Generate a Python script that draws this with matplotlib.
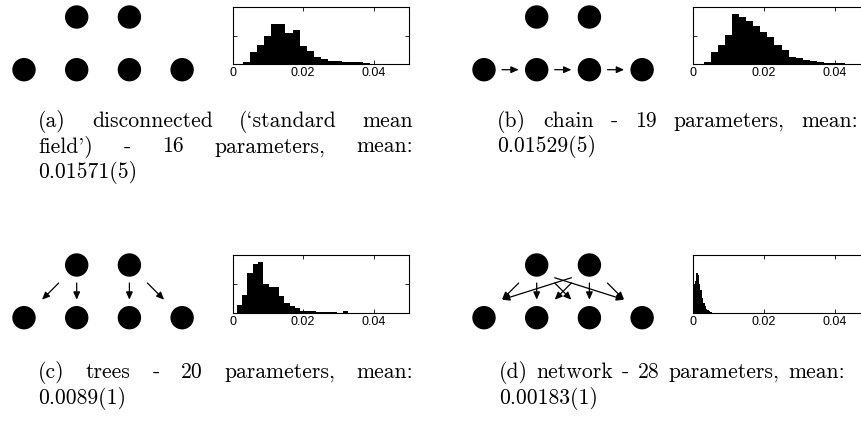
import numpy as np
import matplotlib
matplotlib.use('Agg')
from matplotlib import pyplot as plt
from matplotlib.patches import Circle, FancyArrowPatch

W, H = 861, 424

# histograms: first bin edge, bin width, bar heights (arbitrary counts)
a_start, a_width = 0.001, 0.002
a_counts = [0, 5, 35, 58, 86, 120, 120, 95, 103, 56, 38, 20, 16, 10, 10, 7, 5, 7, 2, 1, 1]
b_start, b_width = 0.003, 0.002
b_counts = [7, 37, 57, 87, 152, 142, 132, 114, 97, 82, 57, 42, 22, 17, 12, 8, 5, 3, 3, 2, 1]
c_start, c_width = 0.0012, 0.0015
c_counts = [22, 53, 118, 146, 152, 86, 78, 78, 50, 28, 21, 14, 5, 5, 5, 2, 2, 2, 2, 0, 4]
d_start, d_width = 0.0, 0.0004
d_counts = [85, 95, 120, 112, 85, 68, 45, 30, 20, 12, 8, 4, 2]

# graph structure: t = top row, b = bottom row
edges_a = []
edges_b = [('b0', 'b1'), ('b1', 'b2'), ('b2', 'b3')]
edges_c = [('t0', 'b0'), ('t0', 'b1'), ('t1', 'b2'), ('t1', 'b3')]
edges_d = [('t0', 'b0'), ('t0', 'b1'), ('t0', 'b2'), ('t0', 'b3'),
           ('t1', 'b0'), ('t1', 'b1'), ('t1', 'b2'), ('t1', 'b3')]

captions = {
    'a': [['(a)', 'disconnected', '(`standard', 'mean'],
          ['field\')', '-', '16', 'parameters,', 'mean:'],
          ['0.01571(5)']],
    'b': [['(b)', 'chain', '-', '19', 'parameters,', 'mean:'],
          ['0.01529(5)']],
    'c': [['(c)', 'trees', '-', '20', 'parameters,', 'mean:'],
          ['0.0089(1)']],
    'd': [['(d)', 'network', '-', '28', 'parameters,', 'mean:'],
          ['0.00183(1)']],
}

fig = plt.figure(figsize=(W / 100, H / 100), dpi=100)
ax = fig.add_axes([0, 0, 1, 1])
ax.set_xlim(0, W)
ax.set_ylim(H, 0)
ax.axis('off')
renderer = fig.canvas.get_renderer()

SP = 52.7
R = 11
CLIP = 18
FAM = ['cmr10', 'DejaVu Serif']
FS = 15.6


def node_pos(name, ox, oy):
    row, i = name[0], int(name[1])
    if row == 't':
        return np.array([ox + SP * (i + 1), oy])
    return np.array([ox + SP * i, oy + SP])


def draw_graph(edges, ox, oy):
    for n in ['t0', 't1', 'b0', 'b1', 'b2', 'b3']:
        ax.add_patch(Circle(node_pos(n, ox, oy), R, color='black', zorder=3))
    for s, e in edges:
        p0, p1 = node_pos(s, ox, oy), node_pos(e, ox, oy)
        d = p1 - p0
        # arrows leave / enter each node at a fixed offset per axis
        off = np.sign(d) * np.minimum(np.abs(d), CLIP)
        off0 = off.copy()
        if d[0] != 0 and d[1] != 0:
            off0[1] *= min(1, abs(d[1] / d[0])) ** 0.5
        a0, a1 = p0 + off0, p1 - off
        ax.add_patch(FancyArrowPatch(a0, a1, arrowstyle='-|>,head_length=0.45,head_width=0.2',
                                     mutation_scale=10, lw=0.9, color='black',
                                     shrinkA=0, shrinkB=0))


def draw_hist(start, width, counts, left, top, bottom, ymax):
    hx = fig.add_axes([left / W, 1 - bottom / H, 176.5 / W, (bottom - top) / H])
    edges = start + width * np.arange(len(counts) + 1)
    hx.stairs(counts, edges, fill=True, color='black')
    hx.set_xlim(0, 0.05)
    hx.set_ylim(0, ymax)
    hx.set_xticks([0, 0.02, 0.04])
    hx.set_xticklabels(['0', '0.02', '0.04'], fontfamily='Liberation Sans', fontsize=9)
    hx.set_yticks([ymax / 2])
    hx.set_yticklabels([])
    hx.tick_params(direction='in', top=True, right=True, length=3, width=0.6, pad=2.5)
    for sp in hx.spines.values():
        sp.set_linewidth(0.8)


def justify(words, x0, x1, y, stretch=True):
    ts = [ax.text(0, y, w, fontfamily=FAM, fontsize=FS, va='baseline', ha='left') for w in words]
    widths = [t.get_window_extent(renderer).width for t in ts]
    if stretch and len(ts) > 1:
        gap = (x1 - x0 - sum(widths)) / (len(ts) - 1)
    else:
        gap = 6
    x = x0
    for t, w in zip(ts, widths):
        t.set_x(x)
        x += w + gap


draw_graph(edges_a, 24, 17)
draw_graph(edges_b, 484, 17)
draw_graph(edges_c, 24, 265)
draw_graph(edges_d, 484, 265)

draw_hist(a_start, a_width, a_counts, 232.5, 7, 64, 173)
draw_hist(b_start, b_width, b_counts, 693.3, 7, 64, 173)
draw_hist(c_start, c_width, c_counts, 232.5, 255, 312.7, 173)
draw_hist(d_start, d_width, d_counts, 693.3, 255, 312.7, 173)

LS = 25.5
for key, x0, x1, y in [('a', 38, 413, 127), ('b', 497, 858, 127),
                       ('c', 38, 413, 378), ('d', 499, 845, 378)]:
    lines = captions[key]
    for i, words in enumerate(lines):
        justify(words, x0, x1, y + LS * i, stretch=(i < len(lines) - 1))

fig.savefig('out.png', dpi=100)
